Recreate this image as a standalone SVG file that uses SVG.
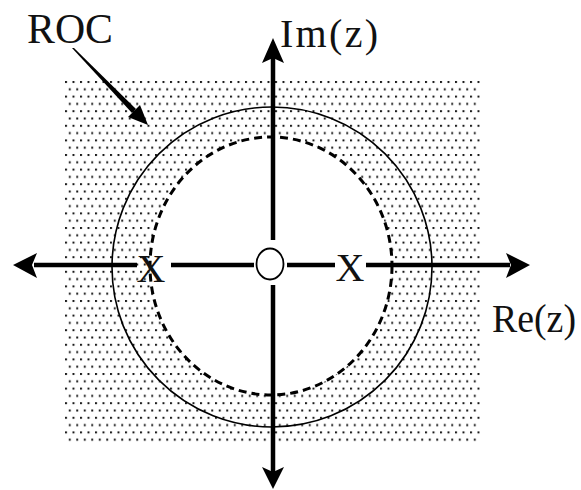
<svg xmlns="http://www.w3.org/2000/svg" width="581" height="490" viewBox="0 0 581 490">
  <style>
    .lbl { font-family: "Liberation Serif", "Times New Roman", serif; fill: #111; }
    .axis { stroke: #000; stroke-width: 4.5; fill: none; }
    .head { fill: #000; }
  </style>
  <defs>
    <pattern id="dots" x="65" y="81" width="7.5" height="14.6" patternUnits="userSpaceOnUse">
      <rect x="0" y="0" width="2" height="2" fill="#1a1a1a"/>
      <rect x="3.75" y="7.3" width="2" height="2" fill="#1a1a1a"/>
    </pattern>
  </defs>
  <rect width="581" height="490" fill="#fff"/>

  <g id="roc-region">
    <rect x="64" y="80" width="416" height="365" fill="url(#dots)"/>
    <ellipse cx="271" cy="266" rx="121" ry="129" fill="#fff"/>
  </g>

  <g id="outer-circle">
    <circle cx="272" cy="267" r="160" fill="none" stroke="#000" stroke-width="1.6"/>
  </g>

  <g id="inner-circle">
    <ellipse cx="271" cy="266" rx="121" ry="129" fill="none" stroke="#000" stroke-width="3" stroke-dasharray="8 5"/>
  </g>

  <g id="connectors">
    <!-- horizontal axis segments -->
    <line class="axis" x1="34" y1="265" x2="137" y2="265"/>
    <line class="axis" x1="171" y1="265" x2="254" y2="265"/>
    <line class="axis" x1="287" y1="265" x2="335" y2="265"/>
    <line class="axis" x1="366" y1="265" x2="510" y2="265"/>
    <polygon class="head" points="13,265 37,253 32,265 37,278"/>
    <polygon class="head" points="530,265 506,253 511,265 506,278"/>
    <!-- vertical axis segments -->
    <line class="axis" x1="273" y1="58" x2="273" y2="240"/>
    <line class="axis" x1="273" y1="285" x2="273" y2="472"/>
    <polygon class="head" points="273,38 262,63 273,58 284,63"/>
    <polygon class="head" points="273,489 262,467 273,472 284,467"/>
    <!-- ROC pointer -->
    <polygon class="head" points="72,48 74,48 136,109 132,113"/>
    <polygon class="head" points="148,125 128,117 140,105"/>
  </g>

  <g id="zero">
    <ellipse cx="270" cy="264" rx="13.5" ry="15.5" fill="#fff" stroke="#000" stroke-width="1.8"/>
  </g>

  <g id="pole-left">
    <text class="lbl" x="151" y="282" font-size="40" text-anchor="middle">X</text>
  </g>
  <g id="pole-right">
    <text class="lbl" x="350" y="281" font-size="40" text-anchor="middle">X</text>
  </g>

  <g id="label-roc">
    <text class="lbl" x="27" y="43" font-size="42" textLength="86" lengthAdjust="spacingAndGlyphs">ROC</text>
  </g>
  <g id="label-im">
    <text class="lbl" x="280" y="47" font-size="40" textLength="98" lengthAdjust="spacing">Im(z)</text>
  </g>
  <g id="label-re">
    <text class="lbl" x="492" y="332" font-size="40" textLength="84" lengthAdjust="spacingAndGlyphs">Re(z)</text>
  </g>
</svg>
